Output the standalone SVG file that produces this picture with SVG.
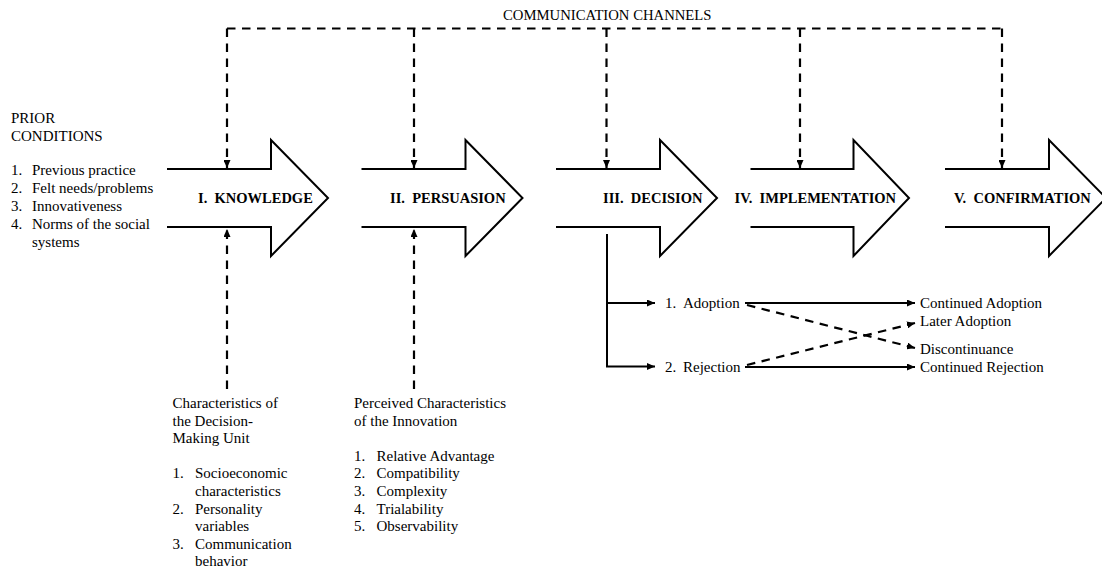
<svg xmlns="http://www.w3.org/2000/svg" width="1102" height="571" viewBox="0 0 1102 571">
<style>
.arrow{fill:none;stroke:#000;stroke-width:2;stroke-linejoin:miter}
.dash{fill:none;stroke:#000;stroke-width:2.2;stroke-dasharray:8.5 6.5}
.solid{fill:none;stroke:#000;stroke-width:2}
.t{font-family:"Liberation Serif","Times New Roman",serif;font-size:15px;fill:#000}
.b{font-family:"Liberation Serif","Times New Roman",serif;font-size:14.5px;font-weight:bold;fill:#000}
.h{font-family:"Liberation Serif","Times New Roman",serif;font-size:14.7px;fill:#000}
</style>
<defs>
<marker id="ah" viewBox="0 0 8 7" refX="8" refY="3.5" markerWidth="8" markerHeight="7" markerUnits="userSpaceOnUse" orient="auto">
<path d="M0,0 L8,3.5 L0,7 z" fill="#000" stroke="none"/>
</marker>
</defs>
<rect width="1102" height="571" fill="#fff"/>

<g id="connectors">
<path class="dash" d="M227,28.5 H1002"/>
<path class="dash" d="M227,28.5 V168" marker-end="url(#ah)"/>
<path class="dash" d="M414,28.5 V168" marker-end="url(#ah)"/>
<path class="dash" d="M606.5,28.5 V168" marker-end="url(#ah)"/>
<path class="dash" d="M800,28.5 V168" marker-end="url(#ah)"/>
<path class="dash" d="M1002,28.5 V168" marker-end="url(#ah)"/>
<path class="dash" d="M227,389 V229" marker-end="url(#ah)"/>
<path class="dash" d="M414,389 V229" marker-end="url(#ah)"/>
<path class="solid" d="M607,234 V366.5 H655" marker-end="url(#ah)"/>
<path class="solid" d="M607,303 H655" marker-end="url(#ah)"/>
<path class="solid" d="M745,303 H915" marker-end="url(#ah)"/>
<path class="solid" d="M745,367 H915" marker-end="url(#ah)"/>
<path class="dash" d="M747,305 L915,348" marker-end="url(#ah)"/>
<path class="dash" d="M747,365 L915,323" marker-end="url(#ah)"/>
</g>

<text class="h" x="503" y="20">COMMUNICATION CHANNELS</text>

<g id="prior-conditions">
<text class="t" x="11" y="123">PRIOR</text>
<text class="t" x="11" y="141">CONDITIONS</text>
<text class="t" x="11" y="174.5">1.</text><text class="t" x="32" y="174.5">Previous practice</text>
<text class="t" x="11" y="192.7">2.</text><text class="t" x="32" y="192.7">Felt needs/problems</text>
<text class="t" x="11" y="210.9">3.</text><text class="t" x="32" y="210.9">Innovativeness</text>
<text class="t" x="11" y="229.1">4.</text><text class="t" x="32" y="229.1">Norms of the social</text>
<text class="t" x="32" y="247.3">systems</text>
</g>

<g id="knowledge">
<path class="arrow" d="M167,169 H271 V140 L328,198 L271,256 V227 H167"/>
<text class="b" x="198" y="203">I.&#160; KNOWLEDGE</text>
</g>
<g id="persuasion">
<path class="arrow" d="M361.5,169 H465.5 V140 L522.5,198 L465.5,256 V227 H361.5"/>
<text class="b" x="390" y="203">II.&#160; PERSUASION</text>
</g>
<g id="decision">
<path class="arrow" d="M556,169 H660 V140 L717,198 L660,256 V227 H556"/>
<text class="b" x="603" y="203">III.&#160; DECISION</text>
</g>
<g id="implementation">
<path class="arrow" d="M750.5,169 H853.5 V140 L909,198 L853.5,256 V227 H750.5"/>
<text class="b" x="734.5" y="203">IV.&#160; IMPLEMENTATION</text>
</g>
<g id="confirmation">
<path class="arrow" d="M945,169 H1049 V140 L1106,198 L1049,256 V227 H945"/>
<text class="b" x="954" y="203">V.&#160; CONFIRMATION</text>
</g>

<g id="adoption">
<text class="t" x="665" y="308">1.</text><text class="t" x="683" y="308">Adoption</text>
</g>
<g id="rejection">
<text class="t" x="665" y="371.5">2.</text><text class="t" x="683" y="371.5">Rejection</text>
</g>
<g id="continued-adoption"><text class="t" x="920" y="308">Continued Adoption</text></g>
<g id="later-adoption"><text class="t" x="920" y="326">Later Adoption</text></g>
<g id="discontinuance"><text class="t" x="920" y="353.5">Discontinuance</text></g>
<g id="continued-rejection"><text class="t" x="920" y="371.5">Continued Rejection</text></g>

<g id="decision-unit">
<text class="t" x="172.5" y="408">Characteristics of</text>
<text class="t" x="172.5" y="425.6">the Decision-</text>
<text class="t" x="172.5" y="443.2">Making Unit</text>
<text class="t" x="172.5" y="478.4">1.</text><text class="t" x="195" y="478.4">Socioeconomic</text>
<text class="t" x="195" y="496">characteristics</text>
<text class="t" x="172.5" y="513.6">2.</text><text class="t" x="195" y="513.6">Personality</text>
<text class="t" x="195" y="531.2">variables</text>
<text class="t" x="172.5" y="548.8">3.</text><text class="t" x="195" y="548.8">Communication</text>
<text class="t" x="195" y="566.4">behavior</text>
</g>

<g id="innovation-characteristics">
<text class="t" x="354" y="408">Perceived Characteristics</text>
<text class="t" x="354" y="425.6">of the Innovation</text>
<text class="t" x="354" y="460.8">1.</text><text class="t" x="376.5" y="460.8">Relative Advantage</text>
<text class="t" x="354" y="478.4">2.</text><text class="t" x="376.5" y="478.4">Compatibility</text>
<text class="t" x="354" y="496">3.</text><text class="t" x="376.5" y="496">Complexity</text>
<text class="t" x="354" y="513.6">4.</text><text class="t" x="376.5" y="513.6">Trialability</text>
<text class="t" x="354" y="531.2">5.</text><text class="t" x="376.5" y="531.2">Observability</text>
</g>
</svg>
